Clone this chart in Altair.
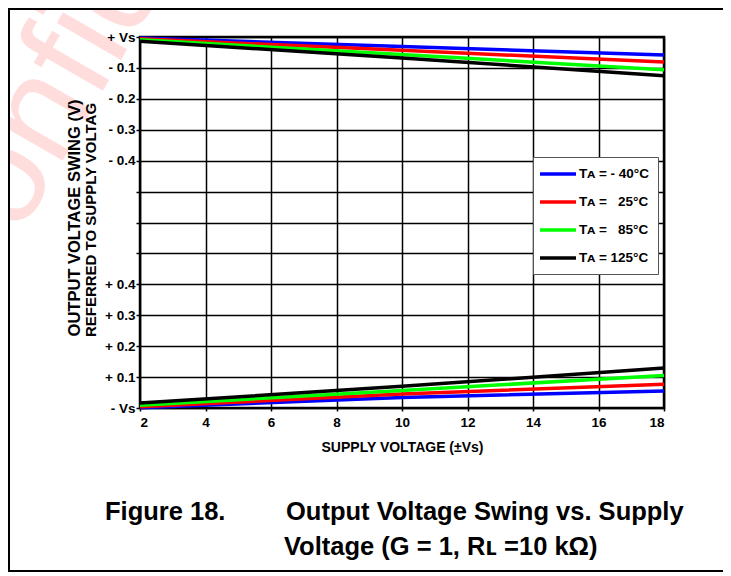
import altair as alt
import pandas as pd

# ---- data ----
supply_v = [2, 10, 18]
legend_labels = ["T\u1d00 = - 40°C", "T\u1d00 =\u00a0\u00a0 25°C", "T\u1d00 =\u00a0\u00a0 85°C", "T\u1d00 = 125°C"]
line_colors = ["#0000ff", "#ff0000", "#00ff00", "#000000"]

# swing referred to the positive rail (V, below +Vs)
high_m40 = [-0.003, -0.031, -0.058]
high_25 = [-0.006, -0.043, -0.081]
high_85 = [-0.009, -0.057, -0.106]
high_125 = [-0.014, -0.068, -0.125]
# swing referred to the negative rail (V, above -Vs)
low_m40 = [0.001, 0.034, 0.055]
low_25 = [0.004, 0.045, 0.077]
low_85 = [0.009, 0.057, 0.105]
low_125 = [0.016, 0.070, 0.129]

x_ticks = [2, 4, 6, 8, 10, 12, 14, 16, 18]
y_tick_labels = ["- Vs", "+ 0.1", "+ 0.2", "+ 0.3", "+ 0.4", "", "", "", "- 0.4", "- 0.3", "- 0.2", "- 0.1", "+ Vs"]

rows = []
highs = [high_m40, high_25, high_85, high_125]
lows = [low_m40, low_25, low_85, low_125]
for lab, hi, lo in zip(legend_labels, highs, lows):
    for s, v in zip(supply_v, hi):
        rows.append({"supply": s, "swing": v, "rail": "hi", "temp": lab})
    for s, v in zip(supply_v, lo):
        rows.append({"supply": s, "swing": v, "rail": "lo", "temp": lab})
df = pd.DataFrame(rows)

W, H = 524, 371
BOLD = "Liberation Sans"

label_expr = "[" + ",".join('"%s"' % t for t in y_tick_labels) + "][datum.value]"

lines = alt.Chart(df).transform_calculate(
    pos="datum.rail == 'hi' ? 12 + datum.swing * 10 : datum.swing * 10"
).mark_line(strokeWidth=3.5).encode(
    x=alt.X("supply:Q", scale=alt.Scale(domain=[2, 18], nice=False, zero=False),
            axis=alt.Axis(values=x_ticks, format="d", title="SUPPLY VOLTAGE (±Vs)",
                          titlePadding=12, labelPadding=4, tickSize=3)),
    y=alt.Y("pos:Q", scale=alt.Scale(domain=[0, 12], nice=False),
            axis=alt.Axis(values=list(range(13)), labelExpr=label_expr, title=None,
                          tickSize=4, labelPadding=1)),
    color=alt.Color("temp:N", sort=legend_labels,
                    scale=alt.Scale(domain=legend_labels, range=line_colors),
                    legend=alt.Legend(title=None, orient="none", legendX=393, legendY=120,
                                      symbolType="M-3,0H3", symbolSize=144,
                                      symbolStrokeWidth=3.5, symbolOffset=8, labelOffset=13,
                                      rowPadding=13, padding=9, strokeColor="#555555",
                                      fillColor="white", labelFont=BOLD, labelFontWeight="bold",
                                      labelFontSize=13.5, labelColor="black")),
    detail="rail:N",
)

one = pd.DataFrame({"k": [0]})

watermark = alt.Chart(one).mark_text(
    text="Confidential", font="Liberation Sans", fontSize=140, angle=300,
    align="left", baseline="middle", color="#ff0000", opacity=0.13
).encode(x=alt.value(-208), y=alt.value(266))

ytitle1 = alt.Chart(one).mark_text(
    text="OUTPUT VOLTAGE SWING (V)", font=BOLD, fontWeight="bold", fontSize=16.5,
    angle=270, align="center", baseline="middle", color="black"
).encode(x=alt.value(-65), y=alt.value(181))

ytitle2 = alt.Chart(one).mark_text(
    text="REFERRED TO SUPPLY VOLTAG", font=BOLD, fontWeight="bold", fontSize=15,
    angle=270, align="center", baseline="middle", color="black"
).encode(x=alt.value(-49), y=alt.value(183))

cap_fig = alt.Chart(one).mark_text(
    text="Figure 18.", font=BOLD, fontWeight="bold", fontSize=25.5,
    align="left", baseline="middle", color="black"
).encode(x=alt.value(-35), y=alt.value(475))

cap1 = alt.Chart(one).mark_text(
    text="Output Voltage Swing vs. Supply", font=BOLD, fontWeight="bold", fontSize=25.5,
    align="left", baseline="middle", color="black"
).encode(x=alt.value(146), y=alt.value(475))

cap2 = alt.Chart(one).mark_text(
    text="Voltage (G = 1, R\u029f =10 kΩ)", font=BOLD, fontWeight="bold", fontSize=25.5,
    align="left", baseline="middle", color="black"
).encode(x=alt.value(144), y=alt.value(510))

frame = alt.Chart(one).mark_rect(filled=False, stroke="black", strokeWidth=2).encode(
    x=alt.value(-131), x2=alt.value(584), y=alt.value(-28), y2=alt.value(534)
)

chart = alt.layer(watermark, frame, lines, ytitle1, ytitle2, cap_fig, cap1, cap2).properties(
    width=W, height=H,
    autosize=alt.AutoSizeParams(type="none"),
    padding={"left": 132, "top": 29, "right": 59, "bottom": 168},
    background="white",
).configure_view(
    stroke="black", strokeWidth=2.5
).configure_axis(
    grid=True, gridColor="black", gridWidth=1.5, gridOpacity=1,
    domain=False, tickColor="black", tickWidth=1.5,
    labelFont=BOLD, labelFontWeight="bold", labelFontSize=13.5, labelColor="black",
    titleFont=BOLD, titleFontWeight="bold", titleFontSize=14, titleColor="black",
)

chart.save("out.html", embed_options={"renderer": "svg", "actions": False})
